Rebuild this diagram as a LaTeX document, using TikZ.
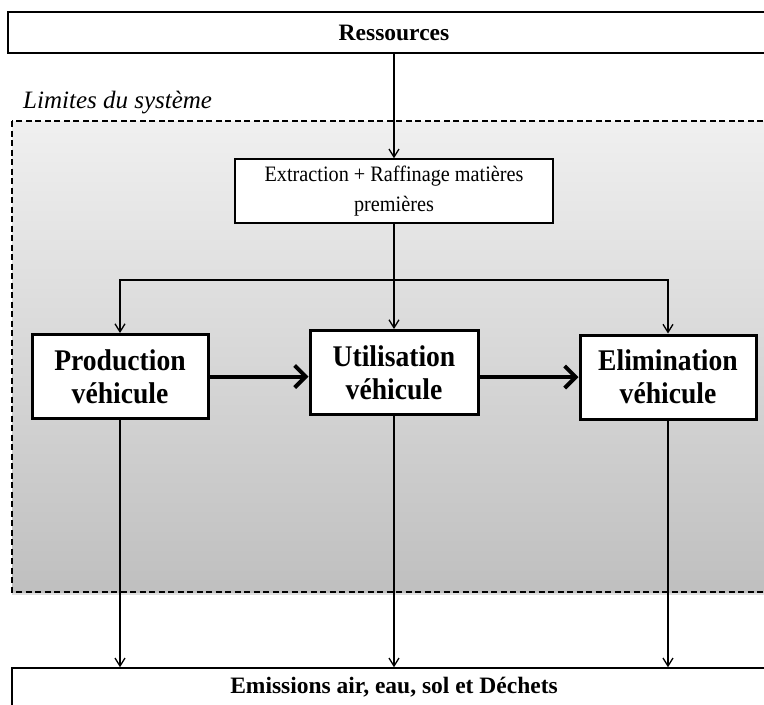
\documentclass[tikz,border=0pt]{standalone}
\usepackage{fontspec}
\setmainfont{Liberation Serif}
\newfontfamily\narrowserif[FakeStretch=0.92]{Liberation Serif}
\usetikzlibrary{arrows.meta,shadows}
\definecolor{gtop}{gray}{0.94}
\definecolor{gbot}{gray}{0.75}
\begin{document}
\begin{tikzpicture}[x=1pt,y=-1pt,
  outerbox/.style={draw,line width=1.5pt,fill=white,inner sep=0pt,font=\fontsize{23.5}{26}\selectfont\bfseries},
  extbox/.style={draw,line width=1.5pt,fill=white,inner sep=0pt,align=center,minimum width=318pt,minimum height=64pt,font=\narrowserif\fontsize{22}{30}\selectfont},
  stagebox/.style={draw,line width=3pt,fill=white,minimum width=176pt,minimum height=84pt,inner sep=0pt,align=center,font=\narrowserif\fontsize{30}{33}\selectfont\bfseries},
  conn/.style={line width=1.3pt,-{Straight Barb[length=8pt,width=10pt]}},
  flow/.style={line width=4pt,-{Straight Barb[length=11pt,width=22pt]}},
  limits/.style={draw,dashed,dash pattern=on 6pt off 3.5pt,line width=1.3pt,top color=gtop,bottom color=gbot,drop shadow={shadow xshift=0pt,shadow yshift=-3pt,opacity=0.25}},
]
\useasboundingbox (0,0) rectangle (764,705);

% system boundary
\path[limits] (12,121) rectangle (800,592);
\node[anchor=base west,inner sep=0pt,font=\fontsize{25}{27}\selectfont\itshape] (lim) at (23,108) {Limites du système};

% boxes
\node[outerbox,minimum width=772pt,minimum height=41pt] (res) at (394,32.5) {Ressources};
\node[extbox] (ext) at (394,191) {Extraction + Raffinage matières\\premières};
\node[stagebox] (prod) at (120,376.5) {Production\\véhicule};
\node[stagebox,minimum width=168pt] (util) at (394,372.5) {Utilisation\\véhicule};
\node[stagebox] (elim) at (668,377) {Elimination\\véhicule};
\node[outerbox,minimum width=764pt,minimum height=39pt] (emis) at (394,687.5) {Emissions air, eau, sol et Déchets};

% connectors
\coordinate (split) at (394,280);
\draw[conn] (res.south) -- (ext.north);
\draw[conn] (ext.south) -- (util.north);
\draw[conn] (split) -| (prod.north);
\draw[conn] (split) -| (elim.north);
\draw[flow] (prod.east) -- (util.west |- prod.east);
\draw[flow] (util.east |- elim.west) -- (elim.west);
\draw[conn] (prod.south) -- (prod.south |- emis.north);
\draw[conn] (util.south) -- (util.south |- emis.north);
\draw[conn] (elim.south) -- (elim.south |- emis.north);
\end{tikzpicture}
\end{document}
